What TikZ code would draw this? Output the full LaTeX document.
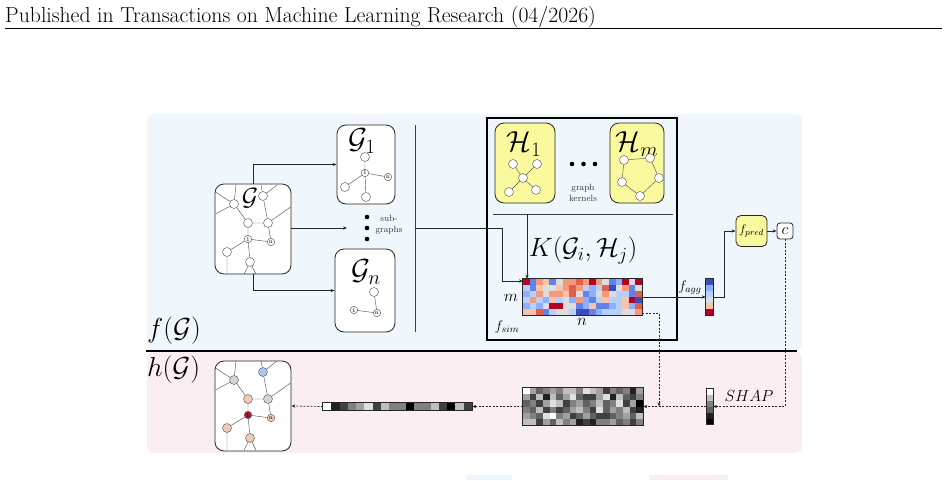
\RequirePackage{fix-cm}
\documentclass[tikz,border=0pt]{standalone}
\usetikzlibrary{arrows.meta,calc}
\definecolor{bgblue}{RGB}{239,247,252}
\definecolor{bgpink}{RGB}{251,238,242}
\definecolor{kyel}{RGB}{250,249,158}
\definecolor{hm0}{RGB}{59,76,192}
\definecolor{hm1}{RGB}{98,130,234}
\definecolor{hm2}{RGB}{141,176,254}
\definecolor{hm3}{RGB}{184,208,249}
\definecolor{hm4}{RGB}{221,221,221}
\definecolor{hm5}{RGB}{245,196,173}
\definecolor{hm6}{RGB}{244,154,123}
\definecolor{hm7}{RGB}{222,96,77}
\definecolor{hm8}{RGB}{180,4,38}
\definecolor{ngray}{RGB}{212,212,212}
\definecolor{nblue}{RGB}{172,197,240}
\definecolor{npeach}{RGB}{240,203,184}
\definecolor{nred}{RGB}{178,24,43}
\newcommand\mkgraph[9]{%
  \node[vtx,fill=#2] (#1a) at (234,204) {};
  \node[vtx,fill=#3] (#1b) at (263,196) {};
  \node[vtx,fill=#4] (#1c) at (248,223) {};
  \node[vtx,fill=#5] (#1d) at (268,223) {};
  \node[svtx,fill=#6] (#1one) at (248,239) {1};
  \node[svtx,fill=#7] (#1n) at (271,242) {n};
  \node[vtx,fill=#8] (#1e) at (227,252) {};
  \node[vtx,fill=#9] (#1f) at (250,262) {};
  \draw[gedge] (#1a) -- (236,184.5) (#1a) -- (215.5,192) (#1a) -- (215.5,214) (#1a) -- (#1c)
    (#1b) -- (261,184.5) (#1b) -- (277,185) (#1b) -- (#1d) (#1c) -- (#1d) (#1c) -- (#1one)
    (#1d) -- (290.5,207) (#1d) -- (#1n) (#1one) -- (#1n) (#1one) -- (#1e) (#1one) -- (#1f)
    (#1e) -- (227,274) (#1f) -- (244,274) (#1f) -- (256,274);
}
\begin{document}
\begin{tikzpicture}[x=1pt,y=-1pt,
  ln/.style={draw=black!85, line width=0.7pt},
  arr/.style={ln, -{Stealth[length=4pt,width=3.2pt]}},
  darr/.style={arr, dash pattern=on 2pt off 1.5pt},
  gbox/.style={draw=black!85, line width=0.8pt, fill=white, rounded corners=9pt, inner sep=0pt},
  ybox/.style={gbox, fill=kyel},
  vtx/.style={circle, draw=black!65, line width=0.45pt, fill=white, minimum size=9pt, inner sep=0pt},
  svtx/.style={vtx, minimum size=7.5pt, font=\fontsize{6}{6}\selectfont},
  gedge/.style={draw=black!65, line width=0.45pt},
  bigdot/.style={circle, fill=black, minimum size=4.6pt, inner sep=0pt},
  bar/.style={draw=black!85, line width=0.7pt, inner sep=0pt},
  ttl/.style={font=\fontsize{29}{29}\selectfont, inner sep=0pt},
  small/.style={font=\fontsize{9}{10.5}\selectfont, align=center, inner sep=0pt, text=black!80},
]
\useasboundingbox (0,0) rectangle (948,480);
% header
\node[anchor=base west, inner sep=0pt, font=\fontsize{21.7}{24}\selectfont] (hdr) at (5,22) {Published in Transactions on Machine Learning Research (04/2026)};
\draw[line width=1.1pt] (5,28.5) -- (942,28.5);
% backgrounds
\fill[bgblue, rounded corners=7pt] (147,114) rectangle (802,350.5);
\fill[bgpink, rounded corners=7pt] (147,351.5) rectangle (802,453);
\draw[line width=1.3pt] (146,351) -- (797,351);
\fill[bgblue] (466,475) rectangle (512,480);
\fill[bgpink] (649,475) rectangle (728,480);
\node[anchor=base west, inner sep=0pt, font=\fontsize{27.5}{28}\selectfont] (fG) at (147,337) {$f(\mathcal{G})$};
\node[anchor=base west, inner sep=0pt, font=\fontsize{27.5}{28}\selectfont] (hG) at (147,376) {$h(\mathcal{G})$};
% main graph G
\node[gbox, minimum width=76pt, minimum height=90pt] (G) at (253,229) {};
\mkgraph{g}{white}{white}{white}{white}{white}{white}{white}{white}
\node[font=\fontsize{25}{25}\selectfont, inner sep=0pt] (Gt) at (250,198) {$\mathcal{G}$};
% G1
\node[gbox, minimum width=58pt, minimum height=79pt] (G1) at (366,164.5) {};
\node[ttl] (G1t) at (362,141) {$\mathcal{G}_1$};
\node[vtx] (p1) at (365,157) {};
\node[svtx] (p2) at (365,173) {1};
\node[svtx] (p3) at (388,177) {n};
\node[vtx] (p4) at (345,187) {};
\node[vtx] (p5) at (366,197) {};
\draw[gedge] (p1) -- (p2) (p2) -- (p3) (p2) -- (p4) (p2) -- (p5);
% Gn
\node[gbox, minimum width=60pt, minimum height=83pt] (Gn) at (365,290.5) {};
\node[ttl] (Gnt) at (366,272) {$\mathcal{G}_n$};
\node[vtx] (q1) at (374,292) {};
\node[svtx] (q2) at (354,310) {1};
\node[svtx] (q3) at (377,313) {n};
\draw[gedge] (q1) -- (q3) (q2) -- (q3);
% dots and sub-graphs
\node[bigdot] (d1) at (367,217) {};
\node[bigdot] (d2) at (367,228) {};
\node[bigdot] (d3) at (367,239) {};
\coordinate (din) at (347,228);
\node[small] (sg) at (389,225) {sub-\\graphs};
\draw[arr] (G.north) |- (G1.west);
\draw[arr] (G.east |- din) -- (din);
\draw[arr] (G.south) |- (Gn.west);
% vertical separator
\coordinate (vt) at (415,125);
\coordinate (vb) at (415,332);
\draw[draw=black!75, line width=0.8pt] (vt) -- (vb);
\coordinate (vl) at (415,228);
% kernel box
\node[draw=black, line width=1.2pt, minimum width=190pt, minimum height=222pt, inner sep=0pt] (KB) at (582,229) {};
\node[ybox, minimum width=60pt, minimum height=80pt] (H1) at (525,163) {};
\node[ttl] (H1t) at (524,144) {$\mathcal{H}_1$};
\node[vtx] (h0) at (523,178) {};
\node[vtx] (h1) at (513,164) {};
\node[vtx] (h2) at (537,164) {};
\node[vtx] (h3) at (509,192) {};
\node[vtx] (h4) at (536,190) {};
\draw[gedge] (h0) -- (h1) (h0) -- (h2) (h0) -- (h3) (h0) -- (h4);
\node[ybox, minimum width=54pt, minimum height=80pt] (Hm) at (637,163) {};
\node[ttl] (Hmt) at (637,144) {$\mathcal{H}_m$};
\node[vtx] (k1) at (624,160) {};
\node[vtx] (k2) at (650,158) {};
\node[vtx] (k3) at (659,178) {};
\node[vtx] (k4) at (640,196) {};
\node[vtx] (k5) at (622,182) {};
\draw[gedge] (k1) -- (k2) (k2) -- (k3) (k3) -- (k4) (k4) -- (k5) (k5) -- (k1);
\node[bigdot] (e1) at (572,164) {};
\node[bigdot] (e2) at (583.5,164) {};
\node[bigdot] (e3) at (595,164) {};
\node[small] (gk) at (583,193) {graph\\kernels};
\coordinate (sl) at (493,214);
\coordinate (sr) at (673,214);
\draw[draw=black!75, line width=0.8pt] (sl) -- (sr);
\coordinate (ks) at (527,214);
\node[font=\fontsize{26.5}{26.5}\selectfont, inner sep=0pt] (Kt) at (583,250) {$K(\mathcal{G}_i,\mathcal{H}_j)$};
% heatmap
\node[minimum width=119pt, minimum height=36pt, inner sep=0pt] (HM) at (582.5,297) {};
\foreach \rowv [count=\r from 0] in {{8,1,6,5,1,4,6,6,7,6,8,6,4,1,2,8,4,8},{3,1,5,4,4,5,6,7,6,3,2,3,7,0,4,6,1,4},{2,3,6,4,6,6,5,7,4,1,2,4,6,4,3,3,1,7},{3,6,3,2,5,3,4,2,6,2,1,3,5,3,3,5,8,0},{2,3,2,4,8,8,4,4,1,2,5,1,1,2,3,5,2,7},{5,5,7,1,3,4,4,3,0,0,1,2,3,3,3,4,4,6}}{
  \foreach \v [count=\c from 0] in \rowv {
    \fill[hm\v] ({523+\c*6.6111},{279+\r*6}) rectangle ++(6.6111,6);
  }
}
\draw[bar] (HM.north west) rectangle (HM.south east);
\node[font=\fontsize{16.5}{16.5}\selectfont, inner sep=0pt] (mlab) at (511,298) {$m$};
\node[font=\fontsize{16.5}{16.5}\selectfont, inner sep=0pt] (nlab) at (582,322) {$n$};
\node[font=\fontsize{14}{14}\selectfont, inner sep=0pt] (fsim) at (507,327) {$f_{sim}$};
\coordinate (hmin) at (523,281);
\draw[arr] (vl) -- (502,228) |- (hmin);
\draw[arr] (ks) -- (ks |- HM.north);
% f_agg bar
\node[minimum width=7pt, minimum height=37pt, inner sep=0pt] (FA) at (709.5,297) {};
\foreach \v [count=\r from 0] in {0,2,3,4,5,8} {
  \fill[hm\v] (706,{278.5+\r*6.1667}) rectangle ++(7,6.1667);
}
\draw[bar] (FA.north west) rectangle (FA.south east);
\draw[arr] (HM.east) -- (FA.west);
\node[font=\fontsize{14}{14}\selectfont, inner sep=0pt] (fagg) at (690,288) {$f_{agg}$};
\node[ybox, rounded corners=5pt, minimum width=31pt, minimum height=31pt, font=\fontsize{12.5}{12.5}\selectfont] (FP) at (751.5,231) {$f_{pred}$};
\node[gbox, fill=white, rounded corners=3pt, minimum width=16pt, minimum height=16pt, font=\fontsize{16}{16}\selectfont] (C) at (785,231) {$c$};
\draw[arr] (FA.east) -- (724,297) |- (FP.west);
\draw[arr] (FP.east) -- (C.west);
% bottom row
\node[minimum width=6.5pt, minimum height=36pt, inner sep=0pt] (SB) at (709.5,406.5) {};
\foreach \v [count=\r from 0] in {8,6,4,3,1,0} {
  \pgfmathtruncatemacro\gv{100-12.5*\v}
  \fill[black!\gv] (706.25,{388.5+\r*6}) rectangle ++(6.5,6);
}
\draw[bar] (SB.north west) rectangle (SB.south east);
\node[font=\fontsize{16}{16}\selectfont, inner sep=0pt] (shap) at (749,396) {$SHAP$};
\node[minimum width=120pt, minimum height=37pt, inner sep=0pt] (GH) at (583,406.5) {};
\foreach \rowv [count=\r from 0] in {{8,5,3,4,5,4,6,6,4,7,6,5,2,4,3,4,1,5},{5,2,6,1,6,3,5,7,3,2,2,5,7,1,6,3,2,4},{3,4,2,5,7,6,2,4,5,3,4,6,3,4,7,2,5,0},{4,3,6,2,4,2,3,5,6,4,2,7,3,5,4,6,2,1},{5,4,3,7,8,4,5,2,3,5,3,2,2,3,4,5,3,6},{6,6,2,5,3,6,4,5,1,2,1,4,4,5,3,4,2,4}}{
  \foreach \v [count=\c from 0] in \rowv {
    \pgfmathtruncatemacro\gv{100-12.5*\v}
    \fill[black!\gv] ({523+\c*6.6667},{388+\r*6.1667}) rectangle ++(6.6667,6.1667);
  }
}
\draw[bar] (GH.north west) rectangle (GH.south east);
\node[minimum width=149pt, minimum height=7pt, inner sep=0pt] (LB) at (397.5,406.5) {};
\foreach \v [count=\c from 0] in {8,1,2,4,5,7,2,6,4,4,0,4,4,6,2,0,6,2} {
  \pgfmathtruncatemacro\gv{100-12.5*\v}
  \fill[black!\gv] ({323+\c*8.2778},403) rectangle ++(8.2778,7);
}
\draw[bar] (LB.north west) rectangle (LB.south east);
\node[gbox, minimum width=76pt, minimum height=90pt] (H) at (253,406) {};
\begin{scope}[yshift=-176pt]
\mkgraph{b}{ngray}{nblue}{npeach}{ngray}{nred}{npeach}{npeach}{npeach}
\end{scope}
% dotted connectors
\coordinate (hmo) at (642,313);
\coordinate (jn) at (659,406.5);
\draw[darr] (hmo) -| (jn);
\draw[darr] (C.south) |- (SB.east);
\draw[darr] (SB.west) -- (GH.east);
\draw[darr] (GH.west) -- (LB.east);
\draw[darr] (LB.west) -- (H.east);
\end{tikzpicture}
\end{document}
